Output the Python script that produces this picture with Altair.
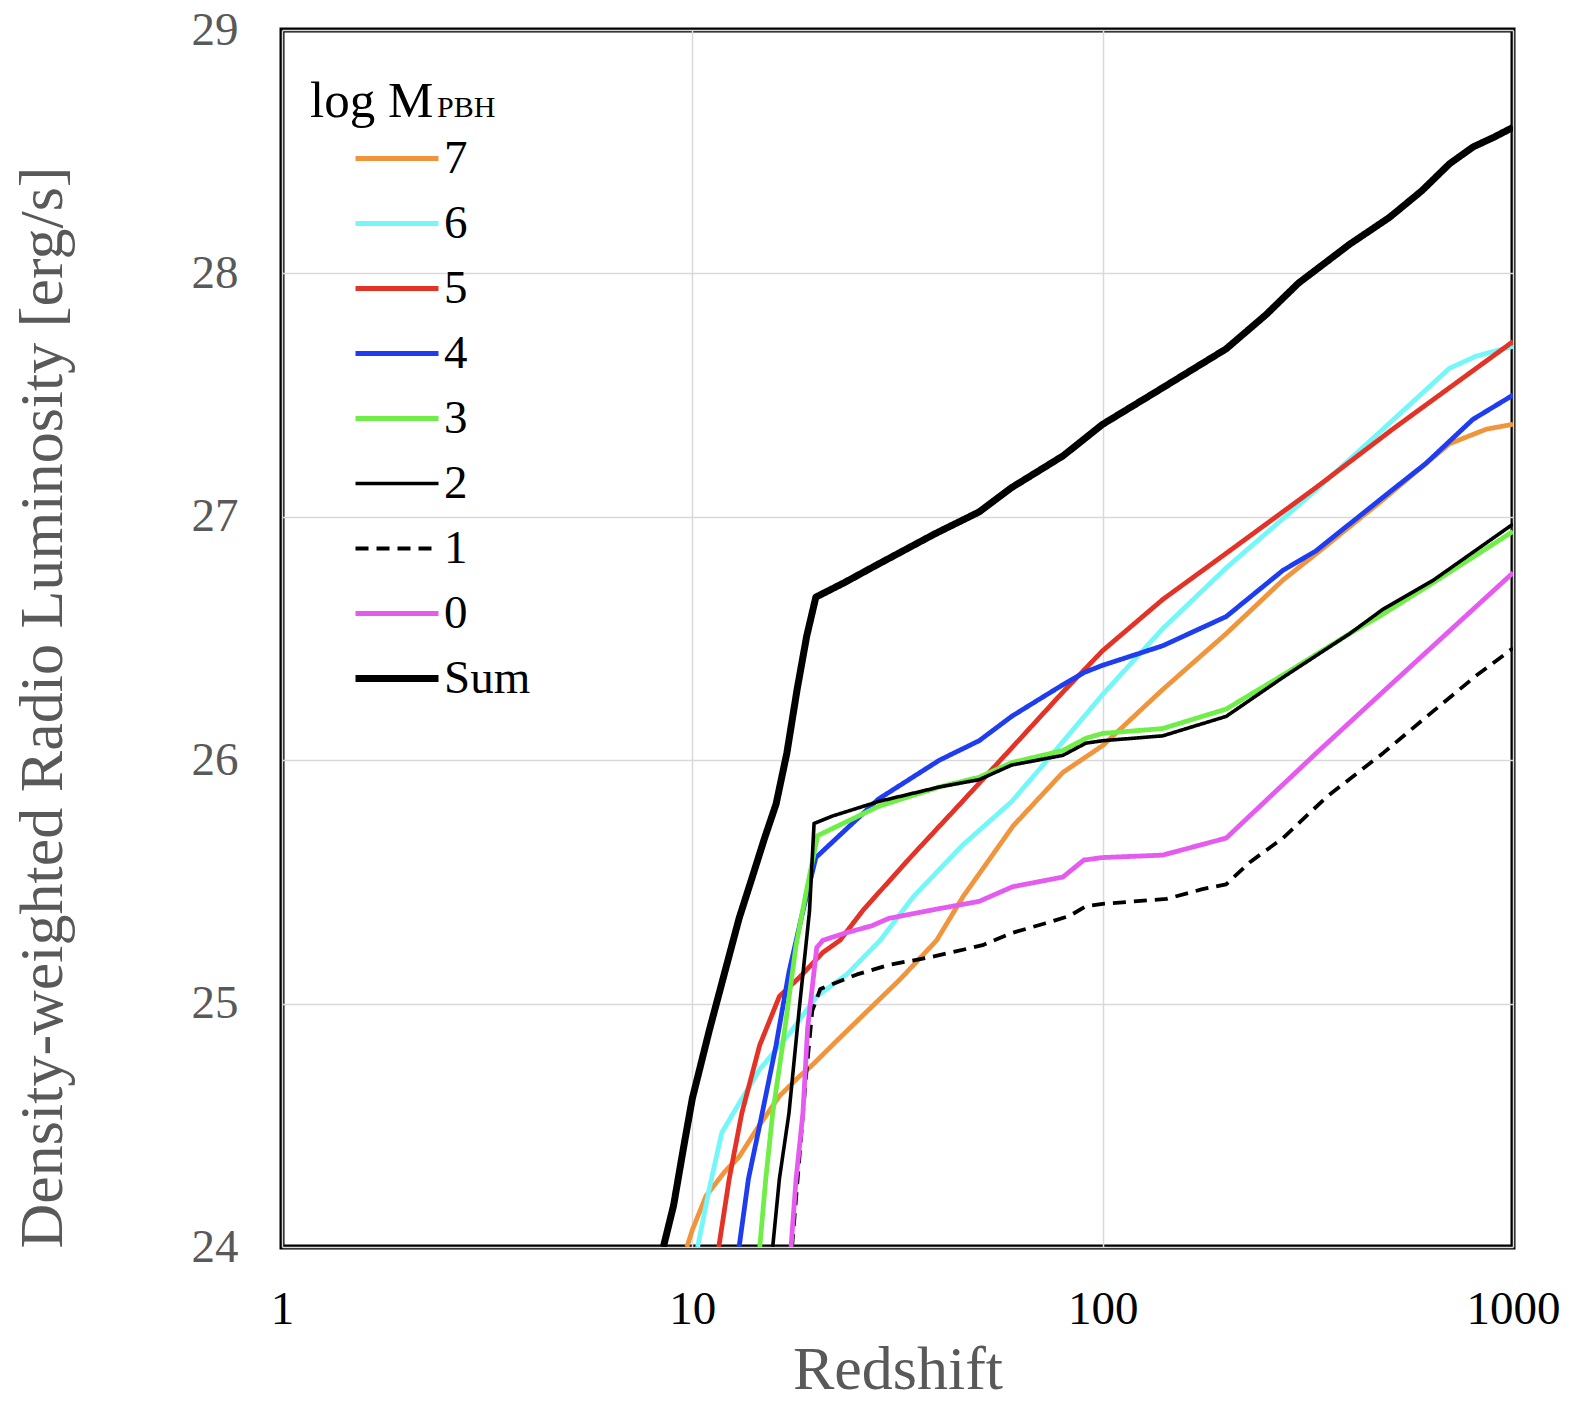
import altair as alt
import pandas as pd

SERIES = ["7", "6", "5", "4", "3", "2", "1", "0", "Sum"]
COLORS = ["#F0953C", "#73F7F9", "#E33326", "#1E3CF0", "#6FEE47", "#000000", "#000000", "#E55AEF", "#000000"]
DASHES = [[1, 0], [1, 0], [1, 0], [1, 0], [1, 0], [1, 0], [13, 8], [1, 0], [1, 0]]
WIDTHS = [4.8, 4.8, 4.8, 4.8, 4.8, 3.6, 3.8, 4.8, 7.0]

Z7 = [9.7, 10, 10.8, 12, 13, 14.3, 16.3, 18.2, 19.4, 22.9, 27.1, 32.1, 39.4, 45.7, 60.5, 80, 100, 140, 200, 275, 344, 482, 700, 861, 1000]
L7 = [24.0, 24.07, 24.21, 24.31, 24.37, 24.48, 24.62, 24.70, 24.74, 24.86, 24.98, 25.10, 25.26, 25.44, 25.73, 25.95, 26.06, 26.29, 26.52, 26.74, 26.87, 27.07, 27.30, 27.36, 27.38]

Z6 = [10.3, 11, 11.8, 13, 14.6, 17.3, 20.1, 23.8, 28.7, 34.6, 45.5, 60, 75, 100, 140, 200, 331, 482, 700, 813, 1000]
L6 = [24.0, 24.24, 24.47, 24.59, 24.73, 24.88, 25.03, 25.12, 25.26, 25.44, 25.65, 25.83, 26.02, 26.27, 26.54, 26.79, 27.11, 27.36, 27.61, 27.66, 27.70]

Z5 = [11.6, 12.3, 13.2, 14.6, 16.3, 18.3, 20.8, 22.9, 26.1, 34.4, 45.5, 60, 80, 100, 140, 200, 331, 509, 700, 1000]
L5 = [24.0, 24.28, 24.55, 24.83, 25.03, 25.11, 25.21, 25.26, 25.385, 25.61, 25.83, 26.05, 26.28, 26.45, 26.66, 26.85, 27.12, 27.36, 27.53, 27.72]

Z4 = [13, 13.7, 14.8, 16, 17.2, 18.6, 20, 28.4, 40, 50, 60, 70, 80, 90, 100, 140, 200, 275, 331, 482, 614, 700, 798, 1000]
L4 = [24.0, 24.28, 24.55, 24.83, 25.13, 25.38, 25.60, 25.84, 26.00, 26.08, 26.18, 26.25, 26.31, 26.36, 26.39, 26.47, 26.59, 26.78, 26.86, 27.08, 27.22, 27.31, 27.40, 27.50]

Z3 = [14.6, 15.1, 15.7, 16.6, 17.9, 18.9, 20.2, 28.4, 40, 50, 60, 80, 91, 100, 140, 200, 275, 400, 482, 640, 1000]
L3 = [24.0, 24.28, 24.55, 24.83, 25.24, 25.45, 25.69, 25.81, 25.89, 25.93, 25.99, 26.04, 26.09, 26.11, 26.13, 26.21, 26.35, 26.52, 26.60, 26.73, 26.94]

Z2 = [15.7, 16.3, 17.2, 18.2, 19.3, 19.8, 21.9, 28.4, 40, 50, 60, 80, 91, 100, 140, 200, 275, 400, 482, 640, 1000]
L2 = [24.0, 24.28, 24.55, 24.97, 25.38, 25.74, 25.77, 25.83, 25.89, 25.92, 25.98, 26.02, 26.07, 26.08, 26.10, 26.18, 26.34, 26.52, 26.62, 26.74, 26.97]

Z1 = [17.5, 18.2, 18.9, 19.6, 20.5, 25.2, 30.3, 37.9, 51, 60, 72.6, 83, 91, 100, 143, 175, 200, 228, 275, 352, 483, 617, 817, 1000]
L1 = [24.0, 24.35, 24.69, 24.97, 25.06, 25.12, 25.16, 25.19, 25.24, 25.29, 25.33, 25.36, 25.40, 25.41, 25.43, 25.47, 25.49, 25.58, 25.68, 25.85, 26.03, 26.18, 26.35, 26.46]

Z0 = [17.4, 17.9, 18.6, 19.1, 20.1, 20.8, 23.6, 27.4, 30.1, 39.9, 50, 60.3, 80, 90, 100, 140, 200, 332, 511, 1000]
L0 = [24.0, 24.28, 24.55, 24.90, 25.23, 25.26, 25.29, 25.32, 25.35, 25.39, 25.42, 25.48, 25.52, 25.59, 25.60, 25.61, 25.68, 26.03, 26.32, 26.77]

ZSUM = [8.5, 9.0, 9.5, 10, 11, 12, 13, 14, 15, 16, 17, 18, 19, 20, 23.5, 28, 39, 50, 60, 80, 100, 140, 200, 250, 300, 400, 500, 600, 700, 800, 900, 1000]
LSUM = [24.0, 24.17, 24.40, 24.61, 24.89, 25.13, 25.35, 25.52, 25.68, 25.82, 26.03, 26.29, 26.51, 26.67, 26.73, 26.80, 26.93, 27.02, 27.12, 27.25, 27.38, 27.53, 27.69, 27.83, 27.96, 28.12, 28.23, 28.34, 28.45, 28.52, 28.56, 28.60]

pairs = [(Z7, L7), (Z6, L6), (Z5, L5), (Z4, L4), (Z3, L3), (Z2, L2), (Z1, L1), (Z0, L0), (ZSUM, LSUM)]
rows = []
for name, (zs, ls) in zip(SERIES, pairs):
    for z, l in zip(zs, ls):
        rows.append({"series": name, "z": z, "L": l})
df = pd.DataFrame(rows)

FONT = "Liberation Serif"
GRAY = "#595959"

legend = alt.Legend(
    title=None, orient="none", legendX=70, legendY=96, padding=0,
    symbolType="stroke", symbolSize=6889,
    labelFont=FONT, labelFontSize=47, labelColor="black", labelOffset=2,
    rowPadding=0, clipHeight=65, labelLimit=300,
)

lines = alt.Chart(df).mark_line(clip=True, strokeCap="butt", strokeJoin="round").encode(
    x=alt.X("z:Q", scale=alt.Scale(type="log", domain=[1, 1000], nice=False),
            axis=alt.Axis(values=[1, 10, 100, 1000], format="d", title="Redshift",
                          titleFont=FONT, titleFontSize=62, titleFontWeight="normal", titleColor=GRAY,
                          titleBaseline="alphabetic", titleY=141,
                          labelFont=FONT, labelFontSize=47, labelColor="black", labelPadding=39,
                          ticks=False, domain=False, grid=True, gridColor="#d9d9d9", gridWidth=1.5,
                          labelFlush=False)),
    y=alt.Y("L:Q", scale=alt.Scale(domain=[24, 29], nice=False, zero=False),
            axis=alt.Axis(values=[24, 25, 26, 27, 28, 29], title="Density-weighted Radio Luminosity [erg/s]",
                          titleFont=FONT, titleFontSize=62, titleFontWeight="normal", titleColor=GRAY,
                          titleAngle=270, titleBaseline="middle", titleAlign="center",
                          titleX=-240, titleY=677,
                          labelFont=FONT, labelFontSize=47, labelColor=GRAY, labelPadding=44,
                          ticks=False, domain=False, grid=True, gridColor="#d9d9d9", gridWidth=1.5,
                          labelFlush=False)),
    color=alt.Color("series:N", scale=alt.Scale(domain=SERIES, range=COLORS), legend=legend),
    strokeDash=alt.StrokeDash("series:N", scale=alt.Scale(domain=SERIES, range=DASHES), legend=legend),
    strokeWidth=alt.StrokeWidth("series:N", scale=alt.Scale(type="ordinal", domain=SERIES, range=WIDTHS), legend=legend),
)

title_df = pd.DataFrame({"t": ["log M"], "s": ["PBH"]})
t1 = alt.Chart(title_df).mark_text(align="left", baseline="alphabetic", font=FONT, fontSize=51, color="black").encode(
    x=alt.value(28), y=alt.value(87), text="t:N")
t2 = alt.Chart(title_df).mark_text(align="left", baseline="alphabetic", font=FONT, fontSize=30, color="black").encode(
    x=alt.value(155), y=alt.value(87), text="s:N")

chart = alt.layer(lines, t1, t2).properties(
    width=1231, height=1217,
    background="white",
    autosize=alt.AutoSizeParams(type="none"),
    padding={"left": 274, "top": 22, "right": 55, "bottom": 163},
).configure_view(stroke="black", strokeWidth=5)

chart.save("out.html", embed_options={"renderer": "svg", "actions": False})
